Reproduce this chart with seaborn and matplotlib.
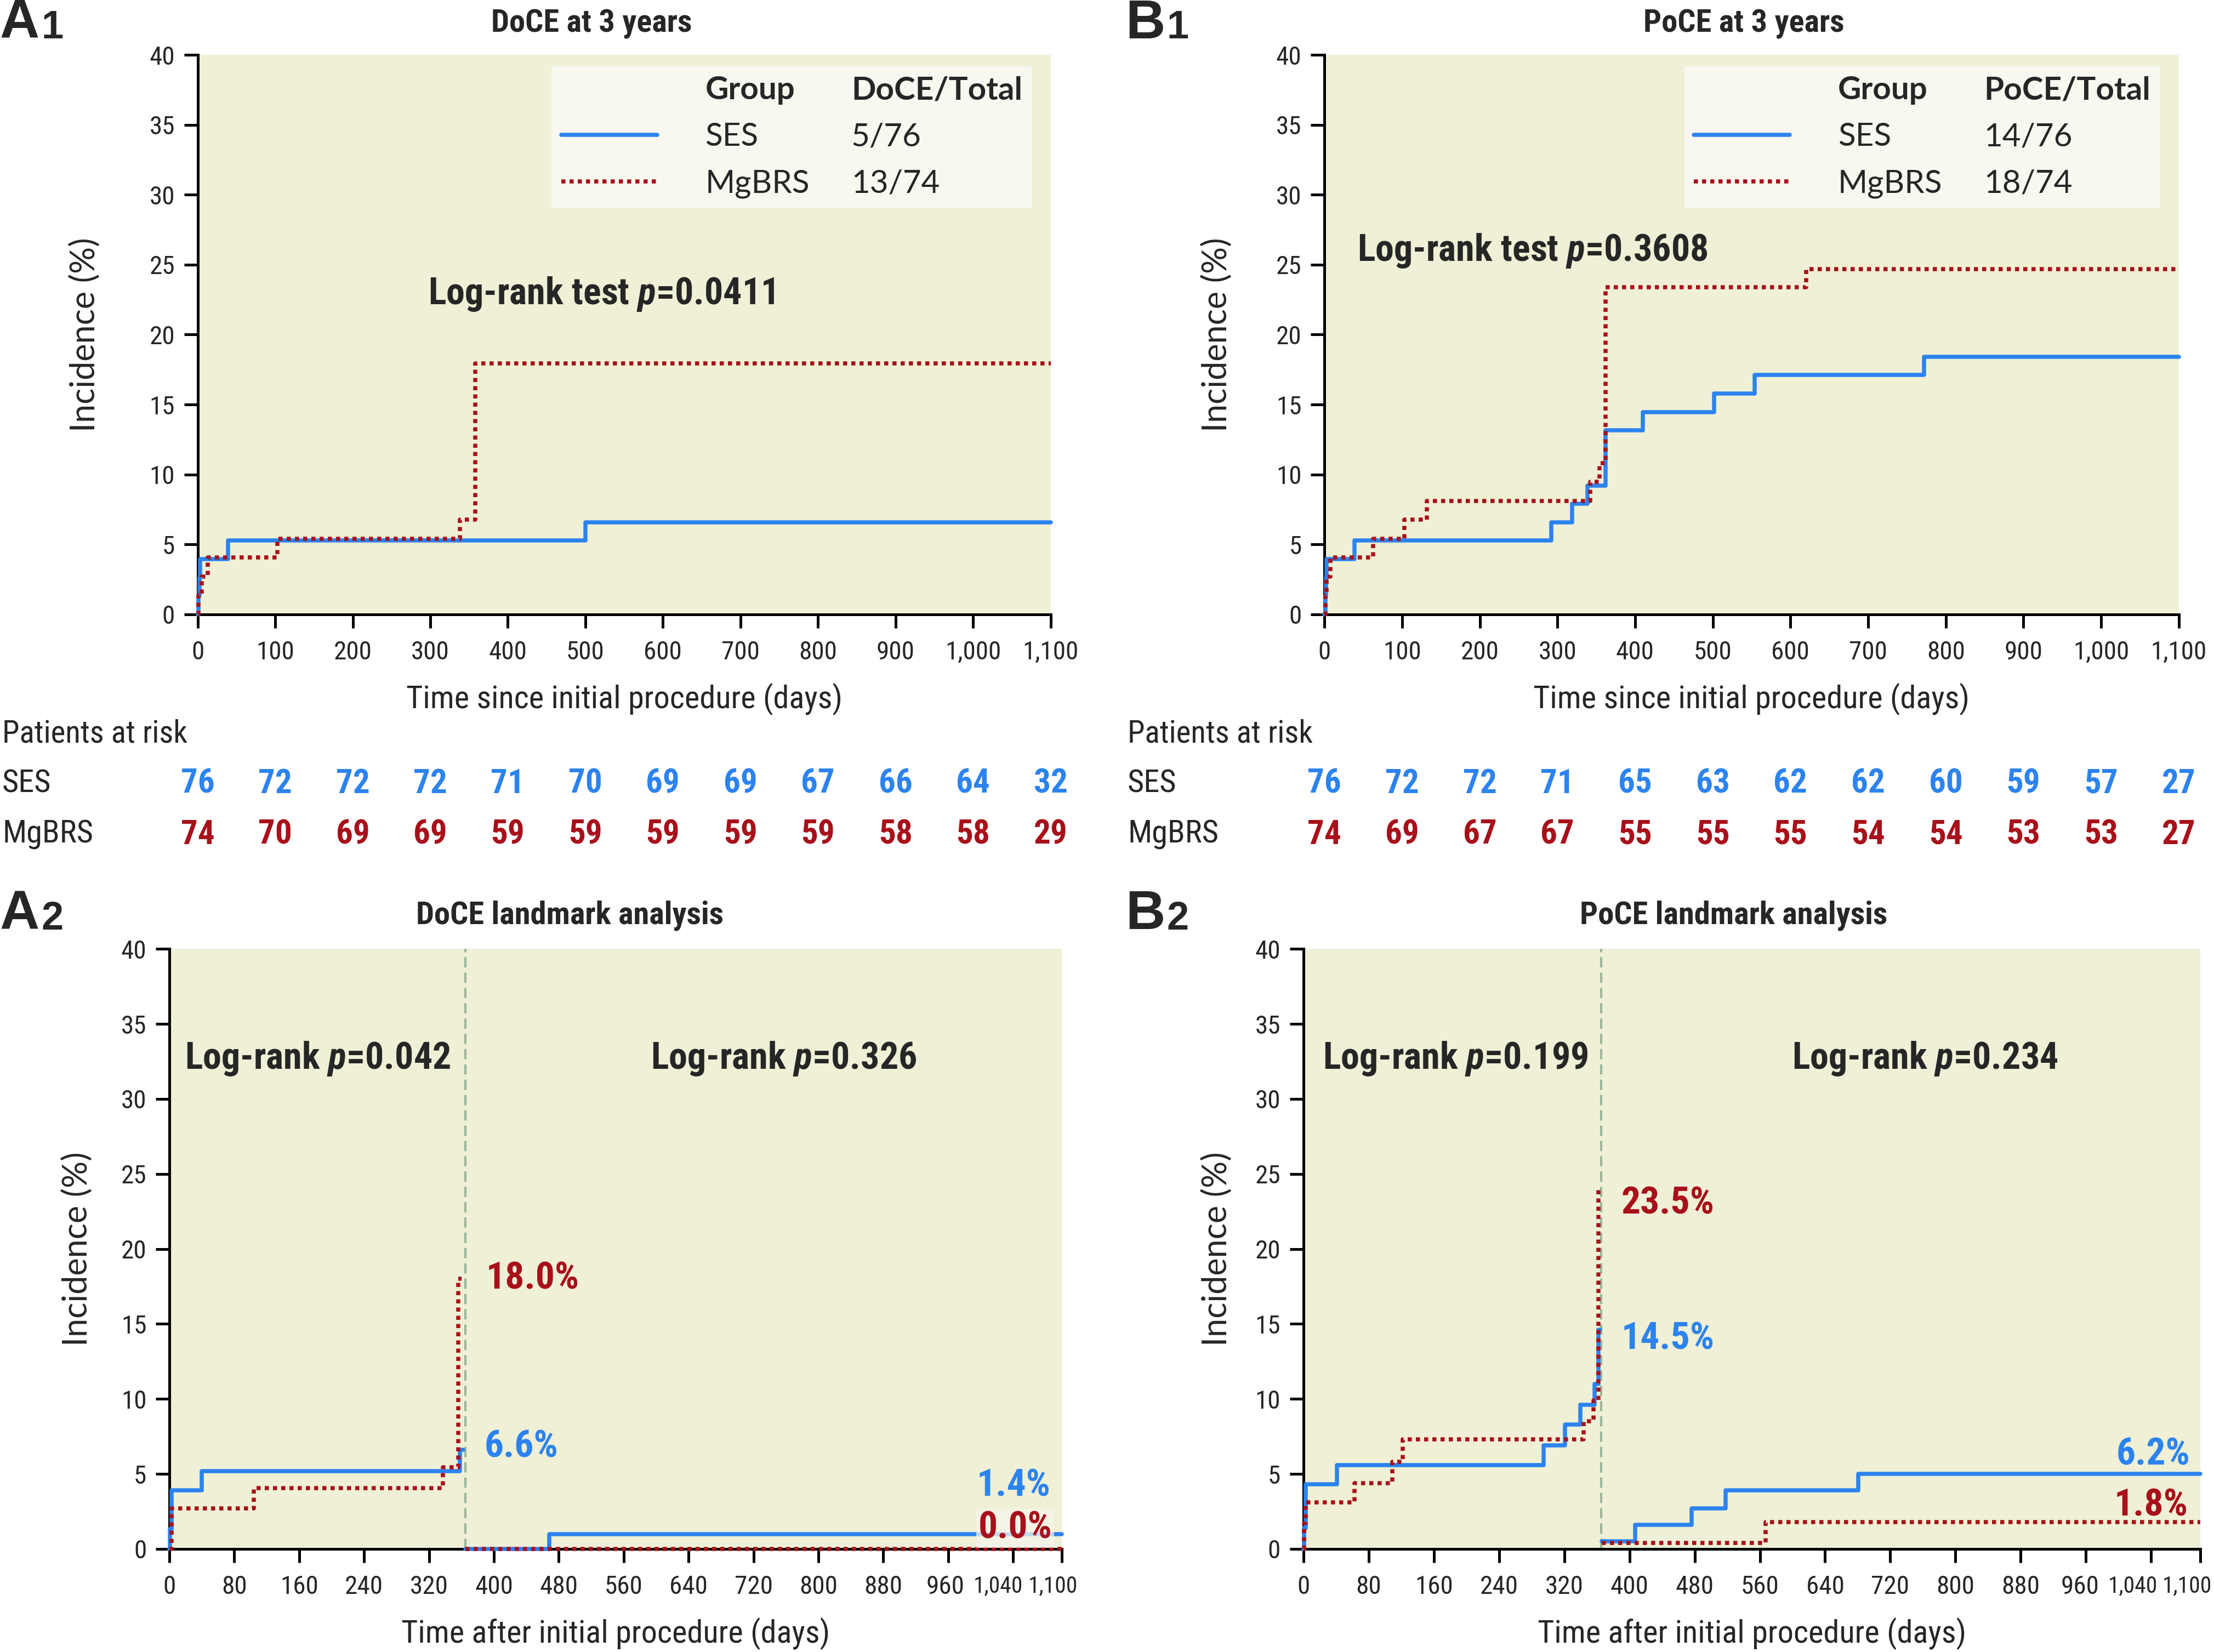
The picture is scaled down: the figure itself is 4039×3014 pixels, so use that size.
import numpy as np
import pandas as pd
import matplotlib
matplotlib.use('Agg')
import matplotlib.pyplot as plt
from matplotlib import font_manager
from matplotlib.lines import Line2D
from matplotlib.transforms import blended_transform_factory, ScaledTranslation
import seaborn as sns

# ---------------- data ----------------
groups = ['SES', 'MgBRS']

# A1: DoCE at 3 years (cumulative incidence, %)
a1_ses_t = [0, 1, 2, 3, 39, 500, 1100]
a1_ses_y = [0, 1.3, 2.6, 3.95, 5.26, 6.58, 6.58]
a1_mg_t = [0, 1, 5, 13, 103, 338, 358, 1100]
a1_mg_y = [0, 1.35, 2.7, 4.05, 5.4, 6.76, 17.95, 17.95]

# B1: PoCE at 3 years
b1_ses_t = [0, 1, 2, 3, 39, 292, 319, 339, 362, 410, 502, 554, 772, 1100]
b1_ses_y = [0, 1.3, 2.6, 3.93, 5.26, 6.58, 7.89, 9.2, 13.16, 14.47, 15.79, 17.1, 18.42, 18.42]
b1_mg_t = [0, 1, 3, 8, 63, 103, 132, 342, 354, 362, 620, 1100]
b1_mg_y = [0, 1.35, 2.7, 4.05, 5.4, 6.76, 8.1, 9.46, 10.8, 23.4, 24.7, 24.7]

# A2: DoCE landmark (before / after 1 year)
a2_ses_pre_t = [0, 1, 3, 40, 358, 362]
a2_ses_pre_y = [0, 1.3, 3.9, 5.2, 6.6, 6.6]
a2_mg_pre_t = [0, 3, 104, 337, 356, 360]
a2_mg_pre_y = [0, 2.7, 4.05, 5.45, 18.0, 18.0]
a2_ses_post_t = [365, 468, 1100]
a2_ses_post_y = [0, 1.0, 1.0]
a2_mg_post_t = [365, 1100]
a2_mg_post_y = [0, 0]

# B2: PoCE landmark
b2_ses_pre_t = [0, 1, 3, 41, 295, 321, 340, 357, 362, 364]
b2_ses_pre_y = [0, 1.4, 4.3, 5.6, 6.9, 8.3, 9.6, 11.0, 14.6, 14.6]
b2_mg_pre_t = [0, 1, 3, 63, 109, 122, 344, 356, 362, 364]
b2_mg_pre_y = [0, 1.7, 3.1, 4.4, 5.8, 7.3, 8.5, 9.9, 24.0, 24.0]
b2_ses_post_t = [366, 407, 476, 518, 681, 1100]
b2_ses_post_y = [0.5, 1.6, 2.7, 3.9, 5.0, 5.0]
b2_mg_post_t = [366, 567, 1100]
b2_mg_post_y = [0.4, 1.8, 1.8]

# patients at risk
risk_ticks = [0, 100, 200, 300, 400, 500, 600, 700, 800, 900, 1000, 1100]
a1_risk_ses = [76, 72, 72, 72, 71, 70, 69, 69, 67, 66, 64, 32]
a1_risk_mg = [74, 70, 69, 69, 59, 59, 59, 59, 59, 58, 58, 29]
b1_risk_ses = [76, 72, 72, 71, 65, 63, 62, 62, 60, 59, 57, 27]
b1_risk_mg = [74, 69, 67, 67, 55, 55, 55, 54, 54, 53, 53, 27]

# legend table
a1_counts = ['5/76', '13/74']
b1_counts = ['14/76', '18/74']

# ticks
xt_3y = [0, 100, 200, 300, 400, 500, 600, 700, 800, 900, 1000, 1100]
xl_3y = ['0', '100', '200', '300', '400', '500', '600', '700', '800', '900', '1,000', '1,100']
xt_lm = [0, 80, 160, 240, 320, 400, 480, 560, 640, 720, 800, 880, 960, 1040, 1100]
xl_lm = ['0', '80', '160', '240', '320', '400', '480', '560', '640', '720', '800', '880', '960', '1,040', '1,100']
yt = [0, 5, 10, 15, 20, 25, 30, 35, 40]
landmark = 365

# ---------------- style ----------------
blue = '#2C83EE'
red = '#A8101A'
bg = '#EFF0D6'
legend_bg = '#F8F8F1'

sns.set_theme(style='ticks')
installed = {f.name for f in font_manager.fontManager.ttflist}


def pick(cands):
    for c in cands:
        if c in installed:
            return c
    return 'DejaVu Sans'


narrow = pick(['Liberation Sans Narrow', 'Roboto Condensed', 'Open Sans Condensed', 'Liberation Sans'])
wide = pick(['Lato', 'Open Sans', 'Noto Sans'])
plt.rcParams['font.family'] = [narrow, 'DejaVu Sans']
plt.rcParams['mathtext.fontset'] = 'custom'
plt.rcParams['mathtext.it'] = f'{narrow}:italic:bold'
plt.rcParams['mathtext.rm'] = f'{narrow}:bold'

fig = plt.figure(figsize=(4039 / 200, 3014 / 200), dpi=200)
ax_a1 = fig.add_axes([0.0893, 0.6282, 0.3852, 0.3385])
ax_b1 = fig.add_axes([0.5982, 0.6282, 0.3859, 0.3385])
ax_a2 = fig.add_axes([0.0765, 0.0624, 0.4031, 0.3632])
ax_b2 = fig.add_axes([0.5887, 0.0624, 0.4050, 0.3632])


def make_df(series):
    rows = []
    for grp, seg, t, y in series:
        for ti, yi in zip(t, y):
            rows.append({'t': ti, 'inc': yi, 'group': grp, 'seg': seg})
    return pd.DataFrame(rows)


def draw_curves(ax, df):
    sns.lineplot(data=df, x='t', y='inc', hue='group', style='group', units='seg',
                 estimator=None, hue_order=groups, style_order=groups,
                 palette={'SES': blue, 'MgBRS': red},
                 dashes={'SES': '', 'MgBRS': (1, 1)},
                 drawstyle='steps-post', lw=2.7, legend=False, ax=ax,
                 clip_on=False, zorder=3)


def style_axes(ax, xticks, xlabels, xlabel, title, title_x, ylab_x, xlab_y):
    ax.set_facecolor(bg)
    ax.set_xlim(0, 1100)
    ax.set_ylim(0, 40)
    ax.set_xticks(xticks)
    ax.set_xticklabels(xlabels)
    ax.set_yticks(yt)
    sns.despine(ax=ax)
    for s in ['left', 'bottom']:
        ax.spines[s].set_linewidth(1.8)
        ax.spines[s].set_color('black')
        ax.spines[s].set_zorder(2.5)
    ax.tick_params(axis='both', length=9, width=1.8, color='black', labelsize=17)
    ax.tick_params(axis='x', pad=8)
    ax.tick_params(axis='y', pad=6)
    ax.grid(False)
    ax.set_xlabel(xlabel, fontsize=21)
    ax.xaxis.label.set_va('center')
    ax.xaxis.set_label_coords(0.5, xlab_y)
    ax.set_ylabel('Incidence (%)', fontsize=22, family=wide)
    ax.yaxis.label.set_va('center')
    ax.yaxis.set_label_coords(ylab_x, 0.5)
    ax.text(title_x, 1.056, title, transform=ax.transAxes, ha='center', va='center',
            fontsize=21, fontweight='bold')


def squeeze_last_ticks(ax, shifts):
    # the last landmark ticks sit close together: nudge the last three labels left
    labs = ax.get_xticklabels()[-3:]
    for i, (lab, dx) in enumerate(zip(labs, shifts)):
        if i > 0:
            lab.set_fontsize(15)
        lab.set_transform(lab.get_transform() + ScaledTranslation(dx / 72, 0, fig.dpi_scale_trans))


def panel_label(x, y, letter, num):
    t = fig.text(x, y, letter, fontsize=36, fontweight='bold', family=['Liberation Sans', 'DejaVu Sans'],
                 ha='left', va='center')
    ax_a1.annotate(num, xy=(1, 0), xycoords=t, xytext=(1, 2), textcoords='offset points',
                   fontsize=26, fontweight='bold', family=['Liberation Sans', 'DejaVu Sans'],
                   ha='left', va='bottom', annotation_clip=False)


def table_legend(ax, header, counts):
    blank = Line2D([], [], linestyle='none')
    h_ses = Line2D([], [], color=blue, lw=2.7)
    h_mg = Line2D([], [], color=red, lw=2.7, linestyle=(0, (1, 1)))
    leg = ax.legend([blank, h_ses, h_mg, blank, blank, blank],
                    ['Group', 'SES', 'MgBRS', header, counts[0], counts[1]],
                    ncol=2, loc='upper right', bbox_to_anchor=(0.978, 0.98), borderaxespad=0,
                    frameon=True, facecolor=legend_bg, edgecolor='none', framealpha=1,
                    fancybox=False, prop={'family': wide, 'size': 21},
                    handlelength=3.0, handletextpad=1.5, columnspacing=-3.2,
                    labelspacing=0.55, borderpad=0.3)
    texts = leg.get_texts()
    texts[0].set_fontweight('bold')
    texts[3].set_fontweight('bold')


def risk_table(ax, ses, mg):
    tr = blended_transform_factory(ax.transData, ax.transAxes)
    for x, n in zip(risk_ticks, ses):
        ax.text(x, -0.303, str(n), transform=tr, ha='center', va='center',
                color=blue, fontsize=22, fontweight='bold')
    for x, n in zip(risk_ticks, mg):
        ax.text(x, -0.394, str(n), transform=tr, ha='center', va='center',
                color=red, fontsize=22, fontweight='bold')


# ---------------- A1 ----------------
df_a1 = make_df([('SES', 0, a1_ses_t, a1_ses_y), ('MgBRS', 1, a1_mg_t, a1_mg_y)])
draw_curves(ax_a1, df_a1)
style_axes(ax_a1, xt_3y, xl_3y, 'Time since initial procedure (days)', 'DoCE at 3 years',
           0.462, -0.132, -0.152)
table_legend(ax_a1, 'DoCE/Total', a1_counts)
ax_a1.text(297, 22.9, r'Log-rank test $p$=0.0411', fontsize=24.5, fontweight='bold', va='center')
risk_table(ax_a1, a1_risk_ses, a1_risk_mg)

# ---------------- B1 ----------------
df_b1 = make_df([('SES', 0, b1_ses_t, b1_ses_y), ('MgBRS', 1, b1_mg_t, b1_mg_y)])
draw_curves(ax_b1, df_b1)
style_axes(ax_b1, xt_3y, xl_3y, 'Time since initial procedure (days)', 'PoCE at 3 years',
           0.491, -0.126, -0.152)
table_legend(ax_b1, 'PoCE/Total', b1_counts)
ax_b1.text(42, 26.0, r'Log-rank test $p$=0.3608', fontsize=24.5, fontweight='bold', va='center')
risk_table(ax_b1, b1_risk_ses, b1_risk_mg)

# ---------------- A2 ----------------
df_a2 = make_df([('SES', 0, a2_ses_pre_t, a2_ses_pre_y), ('SES', 1, a2_ses_post_t, a2_ses_post_y),
                 ('MgBRS', 2, a2_mg_pre_t, a2_mg_pre_y), ('MgBRS', 3, a2_mg_post_t, a2_mg_post_y)])
ax_a2.axvline(landmark, color='#9DB59B', lw=1.5, linestyle=(0, (4.5, 2.2)), zorder=1)
draw_curves(ax_a2, df_a2)
style_axes(ax_a2, xt_lm, xl_lm, 'Time after initial procedure (days)', 'DoCE landmark analysis',
           0.449, -0.103, -0.141)
squeeze_last_ticks(ax_a2, [-2, -10, -6])
ax_a2.text(19, 32.7, r'Log-rank $p$=0.042', fontsize=24.5, fontweight='bold', va='center')
ax_a2.text(593, 32.7, r'Log-rank $p$=0.326', fontsize=24.5, fontweight='bold', va='center')
ax_a2.text(390, 18.0, '18.0%', color=red, fontsize=25, fontweight='bold', va='center')
ax_a2.text(388, 6.8, '6.6%', color=blue, fontsize=25, fontweight='bold', va='center')
ax_a2.text(1086, 4.2, '1.4%', color=blue, fontsize=25, fontweight='bold', va='center', ha='right')
ax_a2.text(1088, 1.4, '0.0%', color=red, fontsize=25, fontweight='bold', va='center', ha='right',
           zorder=4, bbox=dict(boxstyle='square,pad=0.05', facecolor='#F6F6EC', edgecolor='none', alpha=0.75))

# ---------------- B2 ----------------
df_b2 = make_df([('SES', 0, b2_ses_pre_t, b2_ses_pre_y), ('SES', 1, b2_ses_post_t, b2_ses_post_y),
                 ('MgBRS', 2, b2_mg_pre_t, b2_mg_pre_y), ('MgBRS', 3, b2_mg_post_t, b2_mg_post_y)])
ax_b2.axvline(landmark, color='#9DB59B', lw=1.5, linestyle=(0, (4.5, 2.2)), zorder=1)
draw_curves(ax_b2, df_b2)
style_axes(ax_b2, xt_lm, xl_lm, 'Time after initial procedure (days)', 'PoCE landmark analysis',
           0.48, -0.096, -0.141)
squeeze_last_ticks(ax_b2, [-4, -12, -8.5])
ax_b2.text(24, 32.7, r'Log-rank $p$=0.199', fontsize=24.5, fontweight='bold', va='center')
ax_b2.text(599, 32.7, r'Log-rank $p$=0.234', fontsize=24.5, fontweight='bold', va='center')
ax_b2.text(390, 23.0, '23.5%', color=red, fontsize=25, fontweight='bold', va='center')
ax_b2.text(390, 14.0, '14.5%', color=blue, fontsize=25, fontweight='bold', va='center')
ax_b2.text(1088, 6.3, '6.2%', color=blue, fontsize=25, fontweight='bold', va='center', ha='right')
ax_b2.text(1085, 2.9, '1.8%', color=red, fontsize=25, fontweight='bold', va='center', ha='right')

# ---------------- figure-level labels ----------------
for x0 in [0.0, 0.5083]:
    fig.text(x0 + 0.001, 0.5556, 'Patients at risk', fontsize=20.5, va='center', ha='left')
    fig.text(x0 + 0.001, 0.5256, 'SES', fontsize=21, va='center', ha='left')
    fig.text(x0 + 0.001, 0.4949, 'MgBRS', fontsize=21, va='center', ha='left')

panel_label(0.0, 0.9855, 'A', '1')
panel_label(0.5083, 0.9855, 'B', '1')
panel_label(0.0, 0.4462, 'A', '2')
panel_label(0.5083, 0.4462, 'B', '2')

fig.savefig('out.png', dpi=200, facecolor='white')
